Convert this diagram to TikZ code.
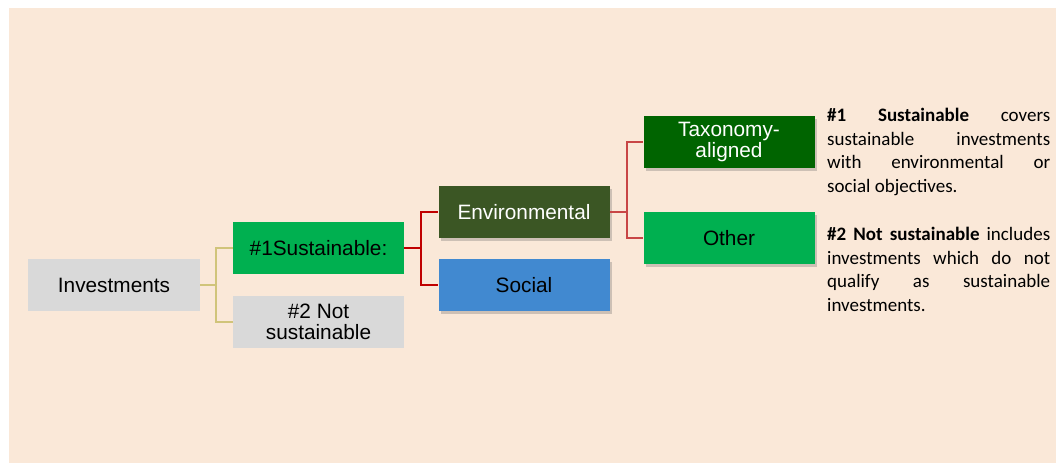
\documentclass[tikz,border=0pt]{standalone}
\usepackage{fontspec}
\setmainfont{Liberation Sans}
\newfontfamily\notefont{Carlito}
\usetikzlibrary{shadows}

\definecolor{pagebg}{RGB}{250,232,216}
\definecolor{boxgray}{RGB}{217,217,217}
\definecolor{brightgreen}{RGB}{0,176,80}
\definecolor{olivegreen}{RGB}{59,86,36}
\definecolor{darkgreen}{RGB}{0,100,0}
\definecolor{socialblue}{RGB}{65,137,208}
\definecolor{oliveline}{RGB}{208,196,122}
\definecolor{darkred}{RGB}{192,0,0}
\definecolor{lightred}{RGB}{200,70,70}

\hyphenpenalty=10000
\exhyphenpenalty=10000
\newcommand{\notetext}[1]{\parbox[t]{223pt}{\notefont\fontsize{19}{23.5}\selectfont\noindent #1}}

\begin{document}
\begin{tikzpicture}[x=1pt,y=-1pt]
  \tikzstyle{box}=[minimum width=171pt,minimum height=52pt,inner sep=2pt,
                   align=center,font=\fontsize{20.8}{21.5}\selectfont]
  \tikzstyle{shadowed}=[drop shadow={shadow xshift=2pt,shadow yshift=-3pt,
                        opacity=0.3,fill=black!60}]
  \tikzstyle{note}=[anchor=north west,inner sep=0pt]

  \useasboundingbox (0,0) rectangle (1056,463);
  \fill[pagebg] (9,8) rectangle (1056,463);

  \node[box,fill=boxgray,minimum width=172pt] (inv)  at (114,285)   {Investments};
  \node[box,fill=brightgreen] (sus)  at (318.5,248) {\#1Sustainable:};
  \node[box,fill=boxgray]     (nsus) at (318.5,322) {\#2 Not\\sustainable};

  \node[box,shadowed,fill=olivegreen,text=white] (env) at (524,212) {Environmental};
  \node[box,shadowed,fill=socialblue] (soc) at (524,285) {Social};

  \node[box,shadowed,fill=darkgreen,text=white] (tax) at (729,142) {Taxonomy-\\aligned};
  \node[box,shadowed,fill=brightgreen] (oth) at (729,238) {Other};

  \node[note] (note1) at (827,108) {\notetext{%
    \textbf{\#1 Sustainable} covers\linebreak sustainable investments\linebreak
    with environmental or\linebreak social objectives.}};
  \node[note] (note2) at (827,227) {\notetext{%
    \textbf{\#2 Not sustainable} includes\linebreak investments which do not\linebreak
    qualify as sustainable\linebreak investments.}};

  % connectors
  \coordinate (j1) at (216,285);
  \coordinate (j2) at (421,248);
  \coordinate (j3) at (627,212);

  \draw[oliveline,line width=1.5pt] (inv.east) -- (j1) |- (sus.west);
  \draw[oliveline,line width=1.5pt] (j1) |- (nsus.west);

  \draw[darkred,line width=2.5pt] (sus.east) -- (j2);
  \draw[darkred,line width=1.5pt] (j2) |- (env.west);
  \draw[darkred,line width=1.5pt] (j2) |- (soc.west);

  \draw[lightred,line width=1.5pt] (env.east) -- (j3) |- (tax.west);
  \draw[lightred,line width=1.5pt] (j3) |- (oth.west);
\end{tikzpicture}
\end{document}
